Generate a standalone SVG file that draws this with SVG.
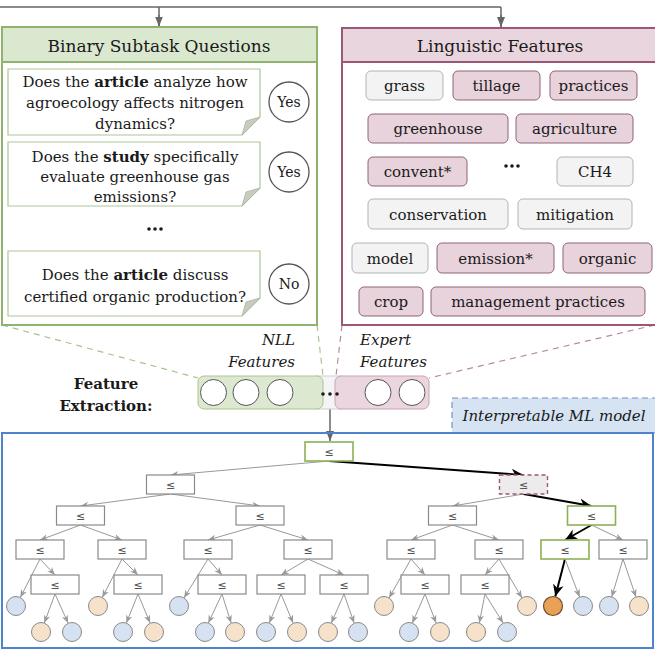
<svg xmlns="http://www.w3.org/2000/svg" width="655" height="655" viewBox="0 0 655 655">
<style>
text{font-family:"DejaVu Serif","Liberation Serif",serif;fill:#1a1a1a}
.q{font-size:15px;text-anchor:middle}
.hd{font-size:17px;text-anchor:middle}
.chip{font-size:15px;text-anchor:middle}
.pk{fill:#e8d2dc;stroke:#8e6477;stroke-width:1}
.gy{fill:#f3f3f3;stroke:#b3b3b3;stroke-width:1}
.qb{fill:#fff;stroke:#aec795;stroke-width:1.2}
.fold{fill:#c6ccbf;stroke:#aab3a0;stroke-width:0.8}
.ans{fill:#fff;stroke:#555;stroke-width:1.3}
.at{font-size:14px;text-anchor:middle}
.it{font-style:italic;font-size:15px}
.nd{fill:#fff;stroke:#8a8a8a;stroke-width:1.2}
.le{font-family:"DejaVu Sans",sans-serif;font-size:11px;text-anchor:middle;fill:#555}
.e{stroke:#999;stroke-width:1;fill:none;marker-end:url(#ag)}
.eb{stroke:#000;stroke-width:2;fill:none;marker-end:url(#ab)}
.lo{fill:#f6e2ca;stroke:#8a8a8a;stroke-width:1}
.lb{fill:#d6e1f1;stroke:#8a8a8a;stroke-width:1}
.fc{fill:#fff;stroke:#555;stroke-width:1}
</style>
<defs>
<marker id="ag" markerUnits="userSpaceOnUse" markerWidth="8" markerHeight="8" viewBox="0 0 10 10" refX="10" refY="5" orient="auto"><path d="M0,1 L10,5 L0,9 L3,5 z" fill="#999"/></marker>
<marker id="ab" markerUnits="userSpaceOnUse" markerWidth="12" markerHeight="12" viewBox="0 0 10 10" refX="10" refY="5" orient="auto"><path d="M0,0.5 L10,5 L0,9.5 L3,5 z" fill="#000"/></marker>
<marker id="at" markerUnits="userSpaceOnUse" markerWidth="10" markerHeight="10" viewBox="0 0 10 10" refX="10" refY="5" orient="auto"><path d="M0,1 L10,5 L0,9 z" fill="#666"/></marker>
</defs>

<g id="connectors">
<path d="M0,7 H501 M159,7 V26.5 M501,7 V27" stroke="#666" stroke-width="1.5" fill="none"/>
<path d="M159,15 V26.5" stroke="#666" stroke-width="1.5" marker-end="url(#at)"/>
<path d="M501,15 V27" stroke="#666" stroke-width="1.5" marker-end="url(#at)"/>
<g stroke-dasharray="6,5" stroke-width="1.2" fill="none">
<path d="M2,325 L198,378" stroke="#a8c48e"/>
<path d="M317,325 L323,376" stroke="#a8c48e"/>
<path d="M342,325 L336,376" stroke="#b98aa0"/>
<path d="M655,325 L429,378" stroke="#b98aa0"/>
</g>
<path d="M330,409 V441" stroke="#666" stroke-width="1.5" marker-end="url(#at)"/>
</g>

<g id="binary-panel">
<rect x="2" y="27" width="315" height="298" fill="#fff" stroke="#8fb26e" stroke-width="2"/>
<rect x="2" y="27" width="315" height="35" fill="#dbe8d0" stroke="#8fb26e" stroke-width="2"/>
<text class="hd" x="159" y="52">Binary Subtask Questions</text>
</g>

<g id="q1">
<path class="qb" d="M8,69 H260 V117 L242,135 H8 Z"/>
<path class="fold" d="M260,117 L242,135 L246,121 Z"/>
<text class="q" x="135" y="87">Does the <tspan font-weight="bold">article</tspan> analyze how</text>
<text class="q" x="135" y="108">agroecology affects nitrogen</text>
<text class="q" x="135" y="129">dynamics?</text>
</g>
<g id="a1"><circle class="ans" cx="289" cy="102" r="20"/><text class="at" x="289" y="107">Yes</text></g>

<g id="q2">
<path class="qb" d="M8,142 H260 V188 L242,206 H8 Z"/>
<path class="fold" d="M260,188 L242,206 L246,192 Z"/>
<text class="q" x="135" y="162">Does the <tspan font-weight="bold">study</tspan> specifically</text>
<text class="q" x="135" y="182">evaluate greenhouse gas</text>
<text class="q" x="135" y="202">emissions?</text>
</g>
<g id="a2"><circle class="ans" cx="289" cy="172" r="20"/><text class="at" x="289" y="177">Yes</text></g>

<g id="qdots" fill="#1a1a1a"><circle cx="149" cy="229" r="1.8"/><circle cx="155" cy="229" r="1.8"/><circle cx="161" cy="229" r="1.8"/></g>

<g id="q3">
<path class="qb" d="M8,251 H260 V298 L242,316 H8 Z"/>
<path class="fold" d="M260,298 L242,316 L246,302 Z"/>
<text class="q" x="135" y="280">Does the <tspan font-weight="bold">article</tspan> discuss</text>
<text class="q" x="135" y="302">certified organic production?</text>
</g>
<g id="a3"><circle class="ans" cx="289" cy="284" r="20"/><text class="at" x="289" y="289">No</text></g>

<g id="linguistic-panel">
<rect x="342" y="28" width="320" height="297" fill="#fff" stroke="#9e5677" stroke-width="2"/>
<rect x="342" y="28" width="320" height="34" fill="#e9d5de" stroke="#9e5677" stroke-width="2"/>
<text class="hd" x="500" y="52">Linguistic Features</text>
</g>

<g id="chips">
<g id="c-grass"><rect class="gy" x="366" y="71" width="77" height="29" rx="5"/><text class="chip" x="404.5" y="91">grass</text></g>
<g id="c-tillage"><rect class="pk" x="453" y="71" width="87" height="29" rx="5"/><text class="chip" x="496.5" y="91">tillage</text></g>
<g id="c-practices"><rect class="pk" x="550" y="71" width="87" height="29" rx="5"/><text class="chip" x="593.5" y="91">practices</text></g>
<g id="c-greenhouse"><rect class="pk" x="368" y="114" width="140" height="29" rx="5"/><text class="chip" x="438" y="134">greenhouse</text></g>
<g id="c-agriculture"><rect class="pk" x="516" y="114" width="117" height="29" rx="5"/><text class="chip" x="574.5" y="134">agriculture</text></g>
<g id="c-convent"><rect class="pk" x="368" y="157" width="99" height="29" rx="5"/><text class="chip" x="417.5" y="177">convent*</text></g>
<g id="c-dots" fill="#1a1a1a"><circle cx="506" cy="166" r="1.8"/><circle cx="512" cy="166" r="1.8"/><circle cx="518" cy="166" r="1.8"/></g>
<g id="c-ch4"><rect class="gy" x="557" y="157" width="76" height="29" rx="5"/><text class="chip" x="595" y="177">CH4</text></g>
<g id="c-conservation"><rect class="gy" x="368" y="199" width="140" height="30" rx="5"/><text class="chip" x="438" y="220">conservation</text></g>
<g id="c-mitigation"><rect class="gy" x="518" y="199" width="114" height="30" rx="5"/><text class="chip" x="575" y="220">mitigation</text></g>
<g id="c-model"><rect class="gy" x="352" y="243" width="76" height="30" rx="5"/><text class="chip" x="390" y="264">model</text></g>
<g id="c-emission"><rect class="pk" x="437" y="243" width="117" height="30" rx="5"/><text class="chip" x="495.5" y="264">emission*</text></g>
<g id="c-organic"><rect class="pk" x="563" y="243" width="89" height="30" rx="5"/><text class="chip" x="607.5" y="264">organic</text></g>
<g id="c-crop"><rect class="pk" x="359" y="287" width="64" height="29" rx="5"/><text class="chip" x="391" y="307">crop</text></g>
<g id="c-mgmt"><rect class="pk" x="431" y="287" width="214" height="29" rx="5"/><text class="chip" x="538" y="307">management practices</text></g>
</g>

<g id="feature-labels">
<text class="it" x="295" y="345" text-anchor="end">NLL</text>
<text class="it" x="295" y="367" text-anchor="end">Features</text>
<text class="it" x="360" y="345">Expert</text>
<text class="it" x="360" y="367">Features</text>
<text x="106" y="389" font-size="15" font-weight="bold" text-anchor="middle">Feature</text>
<text x="106" y="411" font-size="15" font-weight="bold" text-anchor="middle">Extraction:</text>
</g>

<g id="feature-vector">
<rect x="316" y="376" width="26" height="33" fill="#f4f4f4" stroke="#cfcfcf"/>
<rect x="198" y="376" width="125" height="33" rx="6" fill="#dce8d0" stroke="#a8c58e"/>
<rect x="335" y="376" width="94" height="33" rx="6" fill="#ebd6df" stroke="#c9a2b5"/>
<circle class="fc" cx="213.5" cy="392.5" r="13"/>
<circle class="fc" cx="246" cy="392.5" r="13"/>
<circle class="fc" cx="280" cy="392.5" r="13"/>
<circle class="fc" cx="378" cy="392.5" r="13"/>
<circle class="fc" cx="412" cy="392.5" r="13"/>
<g fill="#1a1a1a"><circle cx="323" cy="394" r="1.8"/><circle cx="330" cy="394" r="1.8"/><circle cx="337" cy="394" r="1.8"/></g>
</g>

<g id="ml-label">
<rect x="452" y="398" width="210" height="35" fill="#d5e3f3" stroke="#7391c0" stroke-width="1.2" stroke-dasharray="6,4"/>
<text class="it" x="554" y="421" text-anchor="middle">Interpretable ML model</text>
</g>

<g id="tree-panel">
<rect x="2" y="433" width="651" height="215" fill="none" stroke="#4f84cc" stroke-width="2"/>
</g>

<g id="tree-edges">
<path class="e" d="M329,461 L170.5,475"/>
<path class="eb" d="M329,461 L523.5,475"/>
<path class="e" d="M170.5,494 L80.5,506"/>
<path class="e" d="M170.5,494 L260,506"/>
<path class="e" d="M523.5,494 L452.5,506"/>
<path class="eb" d="M523.5,494 L591.5,506"/>
<path class="e" d="M80.5,525 L40,540"/>
<path class="e" d="M80.5,525 L122,540"/>
<path class="e" d="M260,525 L208,540"/>
<path class="e" d="M260,525 L308,540"/>
<path class="e" d="M452.5,525 L411,540"/>
<path class="e" d="M452.5,525 L499,540"/>
<path class="eb" d="M591.5,525 L565,540"/>
<path class="e" d="M591.5,525 L623,540"/>
<path class="e" d="M40,559 L20.3,597.5"/>
<path class="e" d="M40,559 L55,575"/>
<path class="e" d="M122,559 L102.3,597.5"/>
<path class="e" d="M122,559 L138,575"/>
<path class="e" d="M208,559 L184,597.9"/>
<path class="e" d="M208,559 L222,575"/>
<path class="e" d="M308,559 L281,575"/>
<path class="e" d="M308,559 L344,575"/>
<path class="e" d="M411,559 L389,598"/>
<path class="e" d="M411,559 L425,575"/>
<path class="e" d="M499,559 L485,575"/>
<path class="e" d="M499,559 L522,598"/>
<path class="eb" d="M565,559 L555.3,596.5"/>
<path class="e" d="M565,559 L579.6,597.1"/>
<path class="e" d="M623,559 L611.7,597"/>
<path class="e" d="M623,559 L636,597"/>
<path class="e" d="M55,594 L44.3,623"/>
<path class="e" d="M55,594 L68.1,623"/>
<path class="e" d="M138,594 L126.3,623"/>
<path class="e" d="M138,594 L150.1,623"/>
<path class="e" d="M222,594 L208.3,623"/>
<path class="e" d="M222,594 L231.1,623"/>
<path class="e" d="M281,594 L269.3,623"/>
<path class="e" d="M281,594 L293.1,623"/>
<path class="e" d="M344,594 L331.3,623"/>
<path class="e" d="M344,594 L354.1,623"/>
<path class="e" d="M425,594 L412.3,623"/>
<path class="e" d="M425,594 L436.1,623"/>
<path class="e" d="M485,594 L479.3,623"/>
<path class="e" d="M485,594 L503.1,623"/>
</g>

<g id="tree-nodes">
<g id="n-root"><rect x="305" y="442" width="48" height="19" fill="#fff" stroke="#8bb155" stroke-width="1.6"/><text class="le" x="329" y="456">≤</text></g>
<g id="n-1a"><rect class="nd" x="146.5" y="475" width="48" height="19"/><text class="le" x="170.5" y="489">≤</text></g>
<g id="n-1b"><rect x="499.5" y="475" width="48" height="19" fill="#ececec" stroke="#a0566f" stroke-width="1.4" stroke-dasharray="4,3"/><text class="le" x="523.5" y="489">≤</text></g>
<g id="n-2a"><rect class="nd" x="56.5" y="506" width="48" height="19"/><text class="le" x="80.5" y="520">≤</text></g>
<g id="n-2b"><rect class="nd" x="236" y="506" width="48" height="19"/><text class="le" x="260" y="520">≤</text></g>
<g id="n-2c"><rect class="nd" x="428.5" y="506" width="48" height="19"/><text class="le" x="452.5" y="520">≤</text></g>
<g id="n-2d"><rect x="567.5" y="506" width="48" height="19" fill="#fff" stroke="#8bb155" stroke-width="1.6"/><text class="le" x="591.5" y="520">≤</text></g>
<g id="n-3a"><rect class="nd" x="16" y="540" width="48" height="19"/><text class="le" x="40" y="554">≤</text></g>
<g id="n-3b"><rect class="nd" x="98" y="540" width="48" height="19"/><text class="le" x="122" y="554">≤</text></g>
<g id="n-3c"><rect class="nd" x="184" y="540" width="48" height="19"/><text class="le" x="208" y="554">≤</text></g>
<g id="n-3d"><rect class="nd" x="284" y="540" width="48" height="19"/><text class="le" x="308" y="554">≤</text></g>
<g id="n-3e"><rect class="nd" x="387" y="540" width="48" height="19"/><text class="le" x="411" y="554">≤</text></g>
<g id="n-3f"><rect class="nd" x="475" y="540" width="48" height="19"/><text class="le" x="499" y="554">≤</text></g>
<g id="n-3g"><rect x="541" y="540" width="48" height="19" fill="#fff" stroke="#8bb155" stroke-width="1.6"/><text class="le" x="565" y="554">≤</text></g>
<g id="n-3h"><rect class="nd" x="599" y="540" width="48" height="19"/><text class="le" x="623" y="554">≤</text></g>
<g id="n-4a"><rect class="nd" x="31" y="575" width="48" height="19"/><text class="le" x="55" y="589">≤</text></g>
<g id="n-4b"><rect class="nd" x="114" y="575" width="48" height="19"/><text class="le" x="138" y="589">≤</text></g>
<g id="n-4c"><rect class="nd" x="198" y="575" width="48" height="19"/><text class="le" x="222" y="589">≤</text></g>
<g id="n-4d"><rect class="nd" x="257" y="575" width="48" height="19"/><text class="le" x="281" y="589">≤</text></g>
<g id="n-4e"><rect class="nd" x="320" y="575" width="48" height="19"/><text class="le" x="344" y="589">≤</text></g>
<g id="n-4f"><rect class="nd" x="401" y="575" width="48" height="19"/><text class="le" x="425" y="589">≤</text></g>
<g id="n-4g"><rect class="nd" x="461" y="575" width="48" height="19"/><text class="le" x="485" y="589">≤</text></g>
</g>

<g id="tree-leaves">
<circle class="lb" cx="16" cy="606" r="9.5"/>
<circle class="lo" cx="98" cy="606" r="9.5"/>
<circle class="lb" cx="179" cy="606" r="9.5"/>
<circle class="lo" cx="384" cy="606" r="9.5"/>
<circle class="lo" cx="527" cy="606" r="9.5"/>
<circle cx="553" cy="606" r="9.5" fill="#e9a157" stroke="#6e5030" stroke-width="1.2"/>
<circle class="lb" cx="583" cy="606" r="9.5"/>
<circle class="lb" cx="609" cy="606" r="9.5"/>
<circle class="lo" cx="639" cy="606" r="9.5"/>
<circle class="lo" cx="41" cy="632" r="9.5"/>
<circle class="lb" cx="72" cy="632" r="9.5"/>
<circle class="lb" cx="123" cy="632" r="9.5"/>
<circle class="lo" cx="154" cy="632" r="9.5"/>
<circle class="lb" cx="205" cy="632" r="9.5"/>
<circle class="lo" cx="235" cy="632" r="9.5"/>
<circle class="lb" cx="266" cy="632" r="9.5"/>
<circle class="lo" cx="297" cy="632" r="9.5"/>
<circle class="lo" cx="328" cy="632" r="9.5"/>
<circle class="lb" cx="358" cy="632" r="9.5"/>
<circle class="lb" cx="409" cy="632" r="9.5"/>
<circle class="lo" cx="440" cy="632" r="9.5"/>
<circle class="lo" cx="476" cy="632" r="9.5"/>
<circle class="lb" cx="507" cy="632" r="9.5"/>
</g>
</svg>
